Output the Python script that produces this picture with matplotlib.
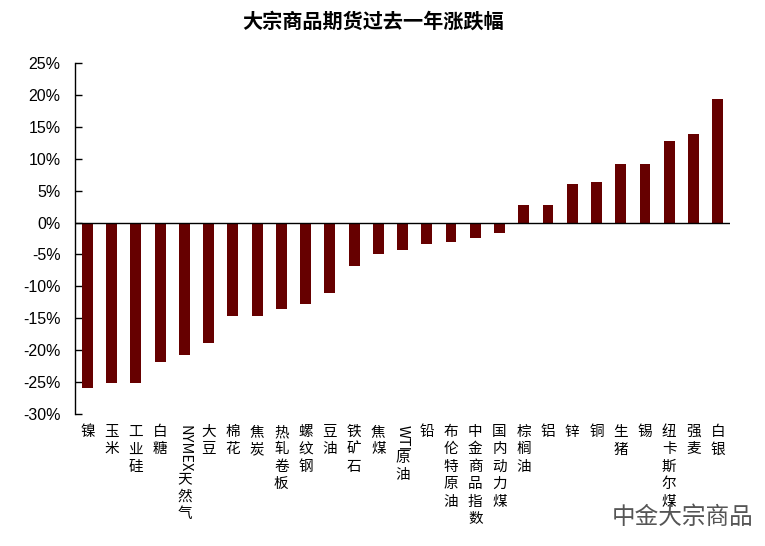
import matplotlib
matplotlib.use("Agg")
import matplotlib.pyplot as plt
import matplotlib.transforms as mtransforms
from matplotlib.ticker import FuncFormatter
import re

# 品种与过去一年涨跌幅(%)
names = ["镍", "玉米", "工业硅", "白糖", "NYMEX天然气", "大豆", "棉花", "焦炭",
         "热轧卷板", "螺纹钢", "豆油", "铁矿石", "焦煤", "WTI原油", "铅",
         "布伦特原油", "中金商品指数", "国内动力煤", "棕榈油", "铝", "锌", "铜",
         "生猪", "锡", "纽卡斯尔煤", "强麦", "白银"]
changes = [-26.0, -25.2, -25.2, -21.9, -20.7, -18.8, -14.6, -14.6,
           -13.5, -12.7, -11.0, -6.8, -4.9, -4.3, -3.3,
           -3.1, -2.4, -1.7, 2.7, 2.7, 6.0, 6.3,
           9.2, 9.2, 12.8, 13.9, 19.4]
yticks = [-30, -25, -20, -15, -10, -5, 0, 5, 10, 15, 20, 25]

title = "大宗商品期货过去一年涨跌幅"
watermark = "中金大宗商品"

cjk = ["Noto Sans CJK SC", "DejaVu Sans"]
bar_color = "#660000"

fig = plt.figure(figsize=(7.65, 5.46), dpi=100)
ax = fig.add_axes([0.0984, 0.2418, 0.8556, 0.6428])

x = list(range(len(names)))
ax.bar(x, changes, width=0.45, color=bar_color, zorder=2)
ax.axhline(0, color="black", lw=1.0, zorder=3)

ax.set_xlim(-0.5, len(names) - 0.5)
ax.set_ylim(-30, 25)
ax.set_yticks(yticks)
ax.yaxis.set_major_formatter(FuncFormatter(lambda v, p: "%d%%" % v))
ax.tick_params(axis="y", direction="in", length=5, width=1, pad=10.5,
               labelsize=11.5, labelfontfamily="Liberation Sans")
ax.set_xticks([])
for s in ["top", "right", "bottom"]:
    ax.spines[s].set_visible(False)
ax.spines["left"].set_linewidth(1)

fig.text(0.488, 0.962, title, ha="center", va="center", fontsize=14.5,
         fontweight="bold", family=cjk)

# 竖排类别标签:汉字直立,英文字母整体旋转
fs = 10.5
step = 12.5
trans = mtransforms.blended_transform_factory(ax.transData, ax.transAxes)
fig.canvas.draw()
renderer = fig.canvas.get_renderer()
for i, name in enumerate(names):
    y_off = -8.0
    for tok in re.findall(r"[A-Za-z]+|.", name):
        if tok.isascii():
            t = ax.annotate(tok, xy=(i, 0), xycoords=trans, xytext=(0, y_off),
                            textcoords="offset points", rotation=270,
                            ha="center", va="top", fontsize=fs, family=cjk,
                            annotation_clip=False)
            bb = t.get_window_extent(renderer)
            y_off -= bb.height * 72.0 / fig.dpi
        else:
            ax.annotate(tok, xy=(i, 0), xycoords=trans, xytext=(0, y_off),
                        textcoords="offset points", ha="center", va="top",
                        fontsize=fs, family=cjk, annotation_clip=False)
            y_off -= step

fig.text(0.985, 0.052, watermark, ha="right", va="center", fontsize=17,
         color="#555555", family=cjk)

fig.savefig("out.png", dpi=100)
